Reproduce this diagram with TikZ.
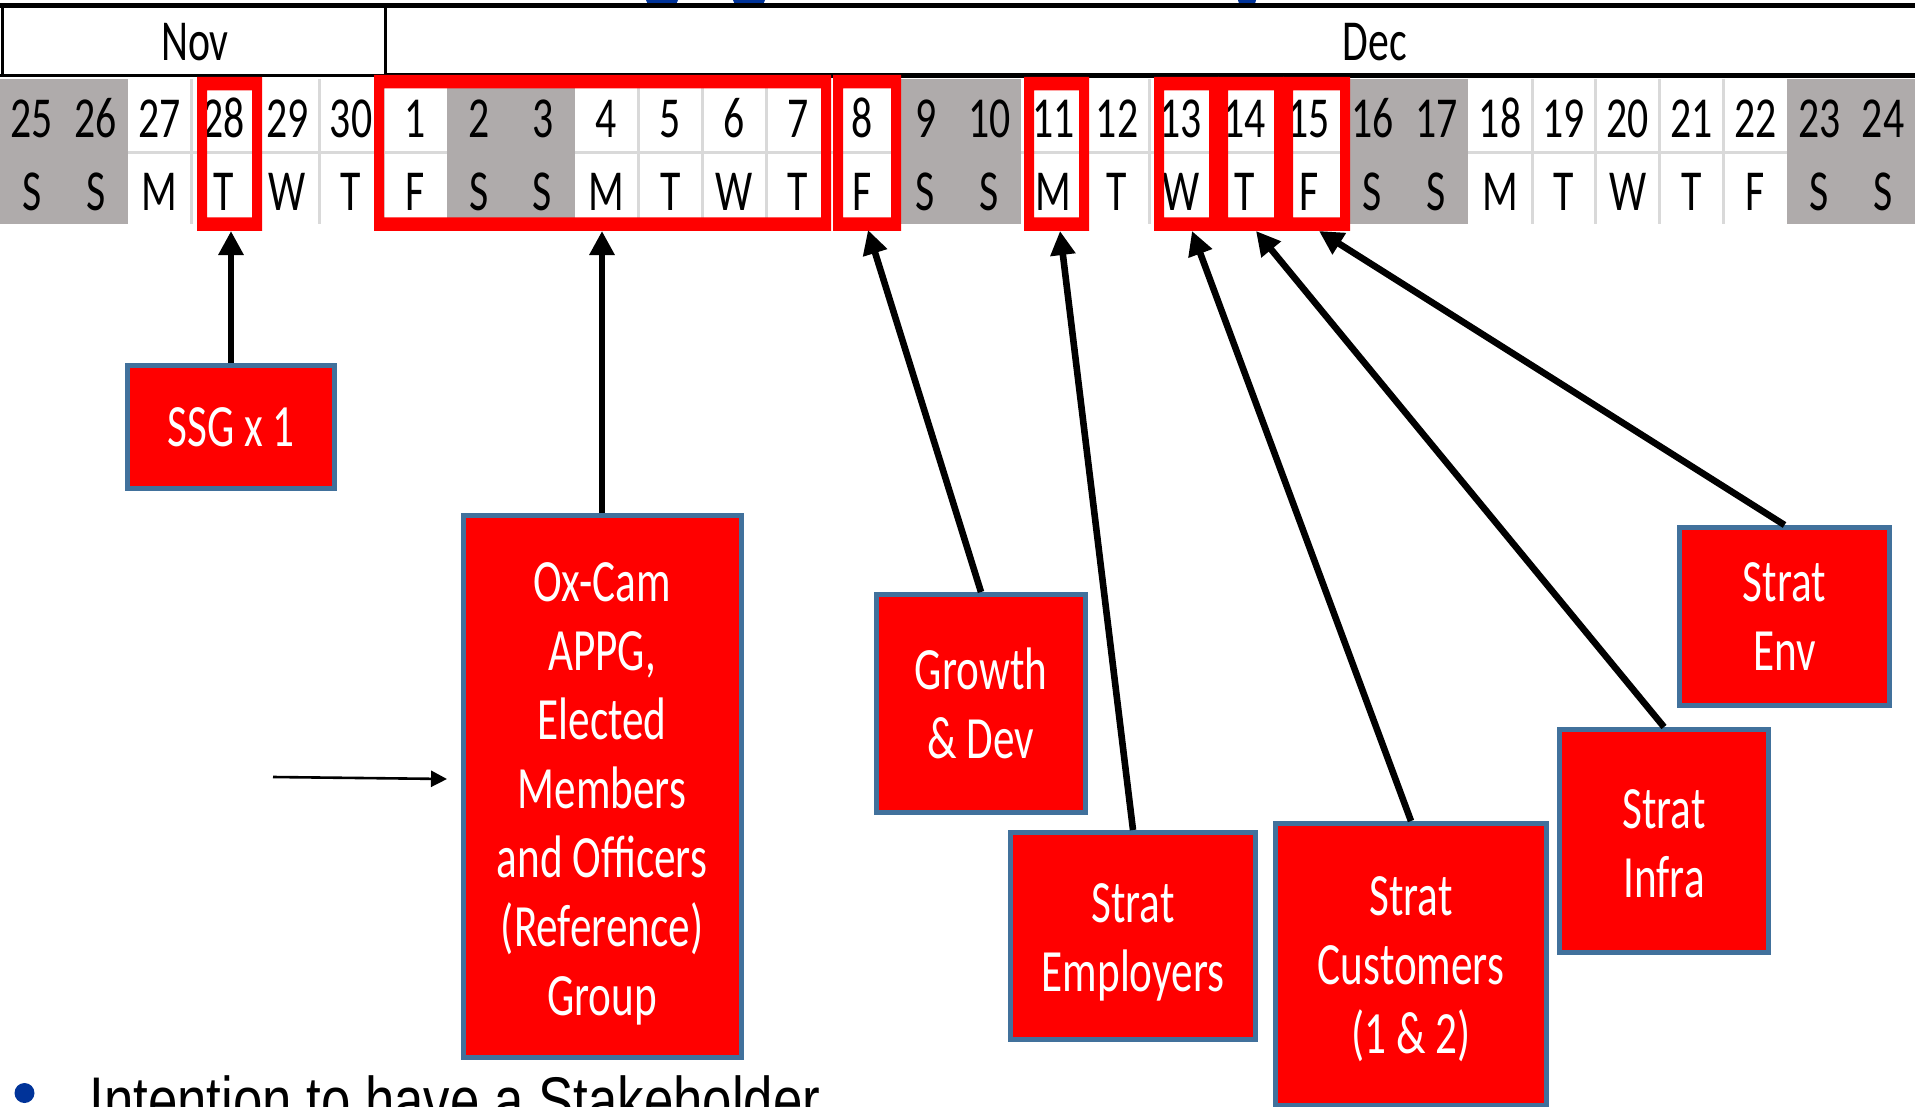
\documentclass[tikz,border=0pt]{standalone}
\usepackage{fontspec}
\usetikzlibrary{arrows.meta}
\newfontfamily\calfont[FakeStretch=0.72]{Carlito}
\newfontfamily\arialfont[FakeStretch=0.8]{Liberation Sans}
\definecolor{wkgray}{HTML}{AFABAB}
\definecolor{gridgray}{HTML}{D9D9D9}
\definecolor{boxblue}{HTML}{41719C}
\definecolor{hired}{HTML}{FF0000}
\definecolor{titleblue}{HTML}{003399}
% red frame: outer x1,y1,x2,y2 (vertical strokes 10px, horizontal strokes 13.5px)
\newcommand\hlframe[4]{%
  \fill[hired,even odd rule] (#1,#2) rectangle (#3,#4)
    ({#1+10},{#2+13.5}) rectangle ({#3-10},{#4-13.5});}
\begin{document}
\begin{tikzpicture}[x=0.5pt,y=-0.5pt,
  calnum/.style={anchor=base,font=\calfont\fontsize{29}{34}\selectfont,inner sep=0},
  grp/.style={draw=boxblue,fill=hired,line width=2.5pt,inner sep=0},
  grptext/.style={text=white,align=center,inner sep=0,
    font=\calfont\fontsize{30}{34.5}\selectfont},
  bigarrow/.style={line width=3.3pt,-{Triangle[length=12pt,width=12pt]}},
  thinarrow/.style={line width=1.3pt,-{Triangle[length=8pt,width=8pt]}}]
\useasboundingbox (0,0) rectangle (1915,1107);
\clip (0,0) rectangle (1915,1107);
\fill[white] (0,0) rectangle (1915,1107);

% fragments of cut-off title
\fill[titleblue] (662,0) ellipse [x radius=8pt, y radius=4pt];
\fill[titleblue] (749,0) ellipse [x radius=8pt, y radius=4pt];
\fill[titleblue] (1247,0) ellipse [x radius=4.5pt, y radius=3.5pt];

% month header
\draw[line width=2.5pt] (0,6) -- (1915,6);
\draw[line width=1.5pt] (2,6) -- (2,77);
\draw[line width=1.5pt] (385,6) -- (385,77);
\draw[line width=1.5pt] (0,76) -- (385,76);
\draw[line width=2.5pt] (385,76) -- (1915,76);
\node[calnum] (nov) at (195,61) {Nov};
\node[calnum] (dec) at (1375,61) {Dec};

% weekend cells
\foreach \c in {0,1,7,8,14,15,21,22,28,29}
  \fill[wkgray] ({\c*63.833},79) rectangle ({(\c+1)*63.833},224);
% light grid in white cells
\foreach \b in {3,4,5,6,10,11,12,13,17,18,19,20,24,25,26,27}
  \draw[gridgray,line width=1.5pt] ({\b*63.833},79) -- ({\b*63.833},224);
\foreach \s/\e in {2/7,9/14,16/21,23/28}
  \draw[gridgray,line width=1.5pt] ({\s*63.833},153) -- ({\e*63.833},153);

% day numbers and weekday letters
\foreach \dnum [count=\i from 0] in {25,26,27,28,29,30,1,2,3,4,5,6,7,8,9,10,11,12,13,14,15,16,17,18,19,20,21,22,23,24}
  \node[calnum] (d\i) at ({(\i+0.5)*63.833},138) {\dnum};
\foreach \wkd [count=\i from 0] in {S,S,M,T,W,T,F,S,S,M,T,W,T,F,S,S,M,T,W,T,F,S,S,M,T,W,T,F,S,S}
  \node[calnum] (w\i) at ({(\i+0.5)*63.833},211) {\wkd};

% red highlight frames
\hlframe{197}{77}{262}{231}
\hlframe{374}{75}{831}{231}
\hlframe{833}{75}{901}{231}
\hlframe{1024}{77}{1089}{231}
\hlframe{1154}{77}{1219}{231}
\hlframe{1218}{77}{1284}{231}
\hlframe{1283}{77}{1350}{231}

% arrow targets
\coordinate (t28) at (231,231);
\coordinate (t1to7) at (602,231);
\coordinate (t8) at (868,230);
\coordinate (t11) at (1060,231);
\coordinate (t13) at (1192,231);
\coordinate (t14) at (1256,231);
\coordinate (t15) at (1319,231);

% group boxes
\node[grp,minimum width=103.5pt,minimum height=61.5pt] (ssg) at (231,427) {};
\node[grp,minimum width=139pt,minimum height=271pt] (oxcam) at (602,786.5) {};
\node[grp,minimum width=104.5pt,minimum height=109pt] (growth) at (981,703.5) {};
\node[grp,minimum width=122.5pt,minimum height=103.5pt] (employers) at (1133,936) {};
\node[grp,minimum width=135.5pt,minimum height=141pt] (customers) at (1411,964.5) {};
\node[grp,minimum width=104.5pt,minimum height=111.5pt] (infra) at (1664,841) {};
\node[grp,minimum width=105pt,minimum height=89pt] (env) at (1784.5,616.5) {};

\node[grptext] (ssgtxt) at (231,427) {SSG x 1};
\node[grptext] (oxcamtxt) at (602,793.5)
  {Ox-Cam\\APPG,\\Elected\\Members\\and Officers\\(Reference)\\Group};
\node[grptext] (growthtxt) at (981,703.5) {Growth\\\& Dev};
\node[grptext] (employerstxt) at (1133,942) {Strat\\Employers};
\node[grptext] (customerstxt) at (1411,969.5) {Strat\\Customers\\(1 \& 2)};
\node[grptext] (infratxt) at (1664,844) {Strat\\Infra};
\node[grptext] (envtxt) at (1784.5,617) {Strat\\Env};

% connectors
\draw[bigarrow] (ssg.north) -- (t28);
\draw[bigarrow] (oxcam.north) -- (t1to7);
\draw[bigarrow] (growth.north) -- (t8);
\draw[bigarrow] (employers.north) -- (t11);
\draw[bigarrow] (customers.north) -- (t13);
\draw[bigarrow] (infra.north) -- (t14);
\draw[bigarrow] (env.north) -- (t15);

\coordinate (thinS) at (273,777);
\coordinate (thinE) at (447,779);
\draw[thinarrow] (thinS) -- (thinE);

% bullet text (cut off at the bottom)
\fill[titleblue] (24.5,1093) circle [radius=5pt];
\node[anchor=base west,inner sep=0,font=\arialfont\fontsize{33}{40}\selectfont] (intent) at (89,1123)
  {Intention to have a Stakeholder};
\end{tikzpicture}
\end{document}
